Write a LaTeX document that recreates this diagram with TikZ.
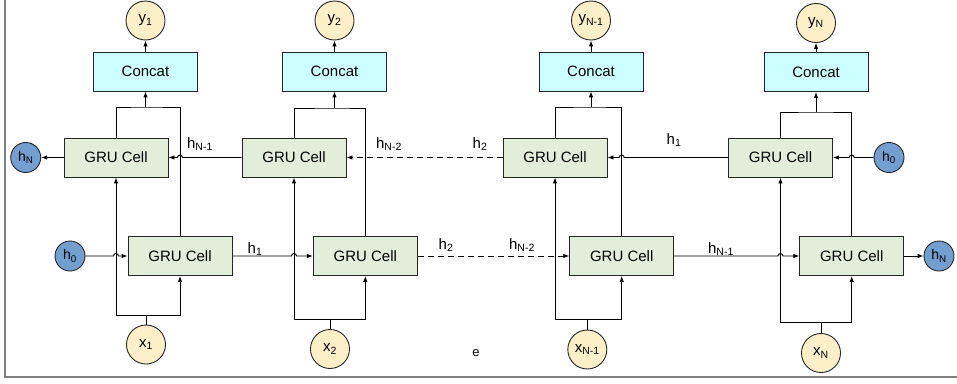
\documentclass[tikz,border=0pt]{standalone}
\usepackage{fontspec}
\setmainfont{Liberation Sans}
\usetikzlibrary{arrows.meta}
\definecolor{cellgreen}{HTML}{E2EEDA}
\definecolor{catcyan}{HTML}{CCFFFF}
\definecolor{iocream}{HTML}{FDF0C8}
\definecolor{stateblue}{HTML}{729FCF}
\newcommand\lsub[1]{\textsubscript{#1}}
\begin{document}
\begin{tikzpicture}
    [x=1pt, y=-1pt, line width=0.9pt,
    >={Latex[length=6pt,width=4.5pt]},
    every node/.style={font=\fontsize{15}{18}\selectfont},
    cell/.style={draw=black!85, fill=cellgreen, minimum width=104pt, minimum height=39pt},
    concat/.style={draw=black!85, fill=catcyan, minimum width=104pt, minimum height=39pt},
    io/.style={circle, draw=black!85, fill=iocream, minimum size=39pt, inner sep=0pt},
    state/.style={circle, draw=black!85, fill=stateblue, minimum size=30pt, inner sep=0pt,
        font=\fontsize{14}{16}\selectfont},
    skip/.style={dash pattern=on 6pt off 4pt},
    lbl/.style={inner sep=1pt}]
    \useasboundingbox (0,0) rectangle (957,383);
    \draw[gray, line width=1.5pt] (5,0) -- (5,377) -- (957,377);

    % outputs and concat
    \node[io] (y1) at (145.5,20.5) {y\lsub{1}};
    \node[io] (y2) at (334.5,20.5) {y\lsub{2}};
    \node[io] (y3) at (591,20.5) {y\lsub{N-1}};
    \node[io] (y4) at (816,23) {y\lsub{N}};
    \node[concat] (cat1) at (145.5,71.5) {Concat};
    \node[concat] (cat2) at (334.5,71.5) {Concat};
    \node[concat] (cat3) at (591,71.5) {Concat};
    \node[concat] (cat4) at (816,72) {Concat};

    % backward cells (top) and forward cells (bottom)
    \node[cell] (ga1) at (116,157.5) {GRU Cell};
    \node[cell] (ga2) at (294,157.5) {GRU Cell};
    \node[cell] (ga3) at (555,157.5) {GRU Cell};
    \node[cell] (ga4) at (780.5,157.5) {GRU Cell};
    \node[cell] (gb1) at (180,256) {GRU Cell};
    \node[cell] (gb2) at (365.3,256) {GRU Cell};
    \node[cell] (gb3) at (621.7,256) {GRU Cell};
    \node[cell] (gb4) at (851.7,256) {GRU Cell};

    % inputs
    \node[io] (x1) at (146,344.5) {x\lsub{1}};
    \node[io] (x2) at (330,349) {x\lsub{2}};
    \node[io] (x3) at (587.3,349.5) {x\lsub{N-1}};
    \node[io] (x4) at (821,353) {x\lsub{N}};

    % states
    \node[state] (hNl) at (25.7,157.5) {h\lsub{N}};
    \node[state] (h0l) at (70,256) {h\lsub{0}};
    \node[state] (h0r) at (889,157.5) {h\lsub{0}};
    \node[state] (hNr) at (939,256) {h\lsub{N}};

    \foreach \i/\my/\by in {1/107/315, 2/108/319.3, 3/107/319, 4/112/322.7} {
        \coordinate (m\i) at (cat\i.south |- 0,\my);
        \coordinate (b\i) at (x\i.north |- 0,\by);
        \draw (ga\i.north) |- (m\i) -| (gb\i.north);
        \draw[->] (m\i) -- (cat\i);
        \draw[->] (cat\i) -- (y\i);
        \draw (x\i) -- (b\i);
        \draw[->] (b\i) -| (ga\i.south);
        \draw[->] (b\i) -| (gb\i.south);
    }

    % backward row
    \draw[->] (ga1) -- (hNl);
    \draw[->] (ga2) -- ([xshift=2.5pt]gb1.north |- ga2.west)
        arc[start angle=0, end angle=180, radius=2.5pt] -- (ga1.east);
    \draw[->, skip] (ga3) -- (ga2);
    \draw[->] (ga4) -- ([xshift=2.5pt]gb3.north |- ga4.west)
        arc[start angle=0, end angle=180, radius=2.5pt] -- (ga3.east);
    \draw[->] (h0r) -- ([xshift=2.5pt]gb4.north |- ga4.east)
        arc[start angle=0, end angle=180, radius=2.5pt] -- (ga4.east);

    % forward row
    \draw[->] (h0l) -- ([xshift=-2.5pt]ga1.south |- gb1.west)
        arc[start angle=180, end angle=0, radius=2.5pt] -- (gb1.west);
    \draw[->] (gb1) -- ([xshift=-2.5pt]ga2.south |- gb1.east)
        arc[start angle=180, end angle=0, radius=2.5pt] -- (gb2.west);
    \draw[->, skip] (gb2) -- (gb3);
    \draw[->] (gb3) -- ([xshift=-2.5pt]ga4.south |- gb3.east)
        arc[start angle=180, end angle=0, radius=2.5pt] -- (gb4.west);
    \draw[->] (gb4) -- (hNr);

    % state labels
    \node[lbl] (lt1) at (200,144) {h\lsub{N-1}};
    \node[lbl] (lt2) at (389,144) {h\lsub{N-2}};
    \node[lbl] (lt3) at (480,144) {h\lsub{2}};
    \node[lbl] (lt4) at (674,140) {h\lsub{1}};
    \node[lbl] (lb1) at (255,249) {h\lsub{1}};
    \node[lbl] (lb2) at (446,245) {h\lsub{2}};
    \node[lbl] (lb3) at (522,245) {h\lsub{N-2}};
    \node[lbl] (lb4) at (721,249) {h\lsub{N-1}};
    \node[lbl, font=\fontsize{13}{15}\selectfont] (stray) at (476,353) {e};
\end{tikzpicture}
\end{document}
